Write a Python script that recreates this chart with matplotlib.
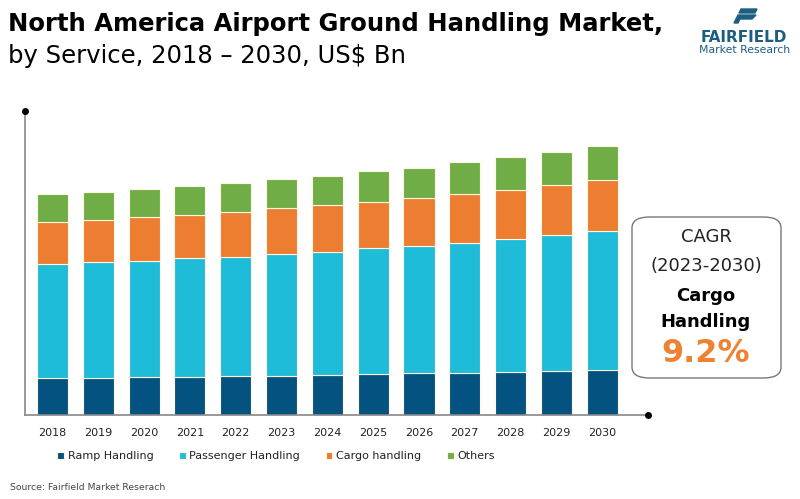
import matplotlib
matplotlib.use("Agg")
import matplotlib.pyplot as plt
import numpy as np
from matplotlib.patches import FancyBboxPatch, Polygon

years = ["2018", "2019", "2020", "2021", "2022", "2023", "2024",
         "2025", "2026", "2027", "2028", "2029", "2030"]
ramp = [1.84, 1.87, 1.89, 1.92, 1.95, 1.97, 2.00, 2.04, 2.09, 2.12, 2.15, 2.20, 2.25]
passenger = [5.70, 5.77, 5.83, 5.92, 5.95, 6.09, 6.17, 6.30, 6.38, 6.50, 6.65, 6.79, 6.94]
cargo = [2.12, 2.12, 2.17, 2.17, 2.25, 2.27, 2.32, 2.32, 2.37, 2.44, 2.47, 2.53, 2.58]
others = [1.37, 1.39, 1.40, 1.44, 1.45, 1.45, 1.47, 1.52, 1.53, 1.59, 1.62, 1.64, 1.69]
series_names = ["Ramp Handling", "Passenger Handling", "Cargo handling", "Others"]
colors = ["#04527F", "#1FBCD9", "#ED7D31", "#71AD47"]

plt.rcParams['font.family'] = ['DejaVu Sans']

W, H = 800, 499
fig = plt.figure(figsize=(W / 100, H / 100), dpi=100)
ax = fig.add_axes([25 / W, 1 - 415 / H, (648 - 25) / W, (415 - 111) / H])

x = np.arange(len(years))
bottom = np.zeros(len(years))
for vals, c, name in zip([ramp, passenger, cargo, others], colors, series_names):
    ax.bar(x, vals, width=0.68, bottom=bottom, color=c, edgecolor="#FFF8E0",
           linewidth=0.8, label=name, zorder=2)
    bottom += np.array(vals)

ax.set_xlim(-0.60, 13.0)
ax.set_ylim(0, 15.2)
ax.set_yticks([])
ax.set_xticks(x)
ax.set_xticklabels(years, fontsize=8, color="#222222")
ax.tick_params(axis="x", length=0, pad=9)
for s in ["top", "right"]:
    ax.spines[s].set_visible(False)
for s in ["left", "bottom"]:
    ax.spines[s].set_color("#888888")
    ax.spines[s].set_linewidth(1.2)
ax.plot([0], [1], marker="o", ms=4, color="black", transform=ax.transAxes, clip_on=False, zorder=5)
ax.plot([1], [0], marker="o", ms=4, color="black", transform=ax.transAxes, clip_on=False, zorder=5)

leg = fig.legend(loc="center", bbox_to_anchor=(276 / W, 1 - 456 / H), ncol=4,
                 frameon=False, fontsize=8, handlelength=0.6, handleheight=0.6,
                 handletextpad=0.35, columnspacing=2.3)
for t in leg.get_texts():
    t.set_color("#222222")

# Title
fig.text(8 / W, 1 - 24 / H, "North America Airport Ground Handling Market,", fontsize=17.5,
         fontweight="bold", color="black", va="center", ha="left")
fig.text(8 / W, 1 - 56 / H, "by Service, 2018 \u2013 2030, US$ Bn", fontsize=17.5,
         color="black", va="center", ha="left")

# Source
fig.text(10 / W, 1 - 488 / H, "Source: Fairfield Market Reserach", fontsize=6.7,
         color="#444444", va="center", ha="left")

# Logo
logo_c = "#1C5F80"
p1 = Polygon([[741 / W, 1 - 9 / H], [757 / W, 1 - 9 / H], [755 / W, 1 - 13 / H], [739 / W, 1 - 13 / H]],
             closed=True, transform=fig.transFigure, color=logo_c)
p2 = Polygon([[738 / W, 1 - 15 / H], [756 / W, 1 - 15 / H], [752 / W, 1 - 19 / H], [740 / W, 1 - 19 / H],
              [738 / W, 1 - 23 / H], [734 / W, 1 - 23 / H]],
             closed=True, transform=fig.transFigure, color=logo_c)
fig.patches.extend([p1, p2])
fig.text(744 / W, 1 - 38 / H, "FAIRFIELD", fontsize=11, fontweight="bold", color=logo_c,
         va="center", ha="center")
fig.text(745 / W, 1 - 50 / H, "Market Research", fontsize=7.8, color=logo_c,
         va="center", ha="center")

# CAGR box
box = FancyBboxPatch((632 / W, 1 - 378 / H), (781 - 632) / W, (378 - 217) / H,
                     boxstyle="round,pad=0,rounding_size=0.022", transform=fig.transFigure,
                     facecolor="white", edgecolor="#777777", linewidth=1.0)
fig.patches.append(box)
cx = 706 / W
fig.text(cx, 1 - 237 / H, "CAGR", fontsize=13, color="#222222", ha="center", va="center")
fig.text(cx, 1 - 266 / H, "(2023-2030)", fontsize=13, color="#222222", ha="center", va="center")
fig.text(cx, 1 - 296 / H, "Cargo", fontsize=13, fontweight="bold", color="black", ha="center", va="center")
fig.text(cx, 1 - 322 / H, "Handling", fontsize=13, fontweight="bold", color="black", ha="center", va="center")
fig.text(cx, 1 - 354 / H, "9.2%", fontsize=23, fontweight="bold", color="#EE8233", ha="center", va="center")

fig.savefig("out.png", dpi=100)
